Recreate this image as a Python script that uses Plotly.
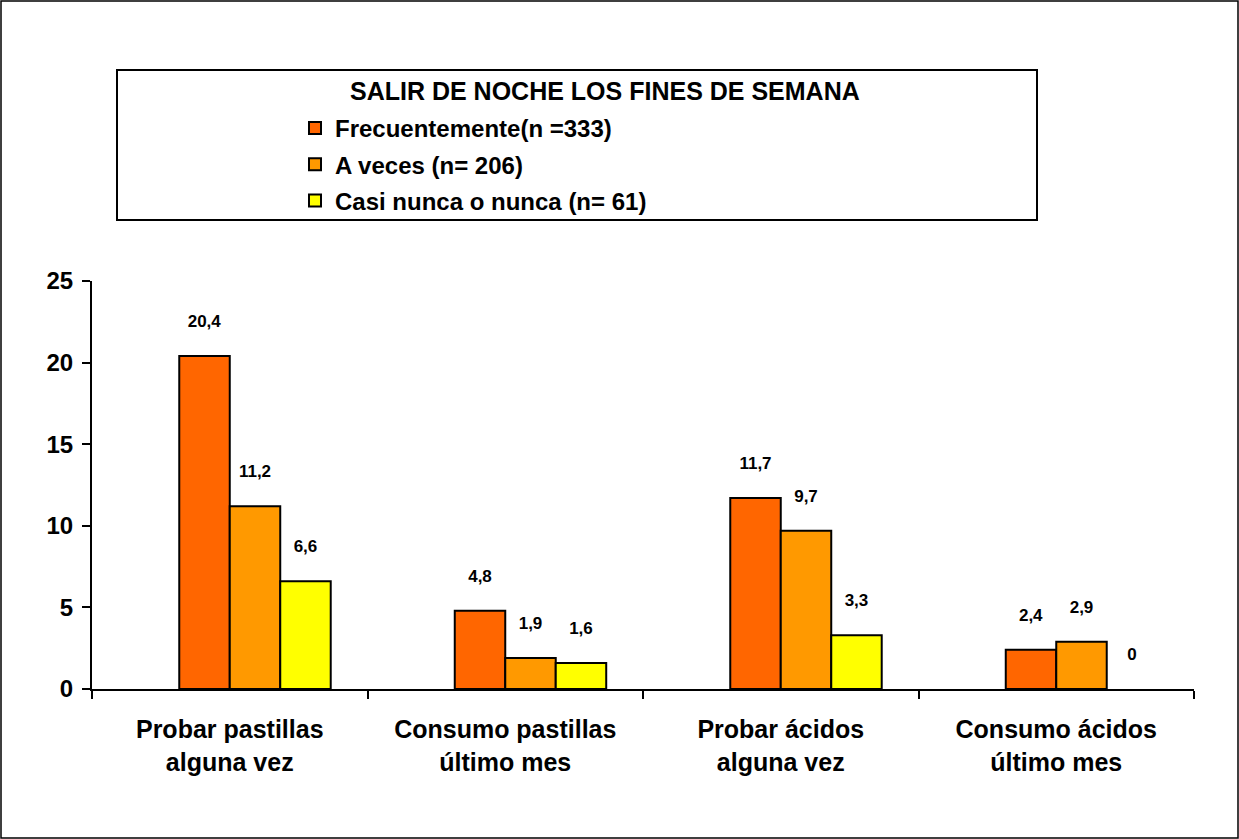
import plotly.graph_objects as go

categories = ["Probar pastillas<br>alguna vez", "Consumo pastillas<br>último mes",
              "Probar ácidos<br>alguna vez", "Consumo ácidos<br>último mes"]
series_names = ["Frecuentemente(n =333)", "A veces (n= 206)", "Casi nunca o nunca (n= 61)"]
frecuentemente = [20.4, 4.8, 11.7, 2.4]
a_veces = [11.2, 1.9, 9.7, 2.9]
casi_nunca = [6.6, 1.6, 3.3, 0]
legend_title = "SALIR DE NOCHE LOS FINES DE SEMANA"
y_ticks = [0, 5, 10, 15, 20, 25]

colors = ["#FF6600", "#FF9900", "#FFFF00"]
FONT = "Liberation Sans, Arial, sans-serif"

W, H = 1239, 839
L, R, T, B = 92, 45, 281, 150
pw, ph = W - L - R, H - T - B

def px_x(x):
    return (x - L) / pw

def px_y(y):
    return (H - B - y) / ph

fig = go.Figure()
# empty leading series (as in the original chart's layout)
fig.add_trace(go.Bar(x=categories, y=[None] * 4, showlegend=False, hoverinfo="skip",
                     marker=dict(color="rgba(0,0,0,0)")))
for name, vals, col in zip(series_names, [frecuentemente, a_veces, casi_nunca], colors):
    fig.add_trace(go.Bar(
        x=categories, y=vals, name=name,
        marker=dict(color=col, line=dict(color="black", width=[2 if v > 0 else 0 for v in vals])),
        text=[f"{v:g}".replace(".", ",") + "<br> " for v in vals],
        textposition="outside", cliponaxis=False, constraintext="none",
        textfont=dict(family=FONT, size=17, color="black", weight="bold"),
        legendgroup=name,
    ))

fig.update_layout(
    width=W, height=H,
    margin=dict(l=L, r=R, t=T, b=B, autoexpand=False),
    paper_bgcolor="white", plot_bgcolor="white",
    barmode="group", bargap=0.267, bargroupgap=0,
    font=dict(family=FONT, color="black"),
    showlegend=True,
    legend=dict(
        x=px_x(295), y=px_y(106), xanchor="left", yanchor="top",
        bgcolor="rgba(0,0,0,0)", borderwidth=0,
        font=dict(family=FONT, size=24, color="black", weight="bold"),
        traceorder="grouped", tracegroupgap=2,
    ),
    xaxis=dict(
        showline=True, linecolor="black", linewidth=2,
        ticks="outside", tickson="boundaries", ticklen=8, tickwidth=2, tickcolor="black",
        tickfont=dict(family=FONT, size=25, color="black", weight="bold"),
        showgrid=False, ticklabelstandoff=17,
    ),
    yaxis=dict(
        range=[0, 25], tickvals=y_ticks,
        showline=True, linecolor="black", linewidth=2,
        ticks="outside", ticklen=8, tickwidth=2, tickcolor="black",
        tickfont=dict(family=FONT, size=24, color="black", weight="bold"),
        showgrid=False, zeroline=False, ticklabelstandoff=4,
    ),
    shapes=[
        dict(type="rect", xref="paper", yref="paper",
             x0=px_x(1), x1=px_x(W - 1), y0=px_y(H - 1), y1=px_y(1),
             line=dict(color="black", width=1.5), fillcolor="rgba(0,0,0,0)", layer="below"),
        dict(type="rect", xref="paper", yref="paper",
             x0=px_x(117), x1=px_x(1037), y0=px_y(220), y1=px_y(70),
             line=dict(color="black", width=2), fillcolor="rgba(0,0,0,0)"),
    ],
    annotations=[
        dict(text=legend_title, xref="paper", yref="paper",
             x=px_x(605), y=px_y(91), xanchor="center", yanchor="middle",
             showarrow=False, font=dict(family=FONT, size=25, color="black", weight="bold")),
    ],
)

fig.write_html("out.html", config={"displayModeBar": False},
               post_script="document.body.style.margin='0';document.body.style.overflow='hidden';")
